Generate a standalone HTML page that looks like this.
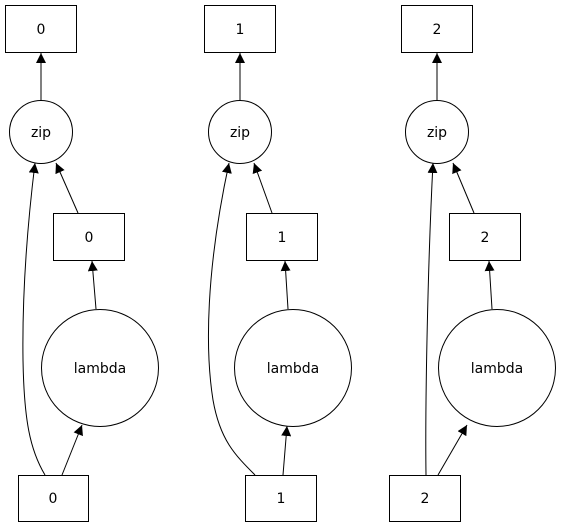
<!DOCTYPE html>
<html><head><style>html,body{margin:0;padding:0;background:#fff}svg{display:block}</style></head>
<body>
<svg width="562" height="529" viewBox="0 0 562 529" xmlns="http://www.w3.org/2000/svg" font-family="DejaVu Sans, Liberation Sans, sans-serif" font-size="14">
<defs>
<marker id="a" markerUnits="userSpaceOnUse" markerWidth="12" markerHeight="10" refX="10" refY="5" orient="auto">
<path d="M0,0 L10,5 L0,10 Z" fill="#000"/>
</marker>
</defs>
<g fill="none" stroke="#000" stroke-width="1">
<rect x="5.5" y="5.5" width="71" height="47"/>
<circle cx="41" cy="132" r="31.5"/>
<rect x="53.5" y="213.5" width="71" height="47"/>
<circle cx="100" cy="368" r="58.5"/>
<rect x="18.5" y="475.5" width="70" height="46"/>
<line x1="41" y1="100" x2="41" y2="53" marker-end="url(#a)"/>
<line x1="78" y1="213" x2="56" y2="163" marker-end="url(#a)"/>
<line x1="96" y1="309" x2="92" y2="261" marker-end="url(#a)"/>
<line x1="62" y1="475" x2="82" y2="425" marker-end="url(#a)"/>
<path d="M45,475 C30,450 24,420 23,360 C22,290 28,220 35,163" marker-end="url(#a)"/>
<rect x="204.5" y="5.5" width="71" height="47"/>
<circle cx="240" cy="132" r="31.5"/>
<rect x="246.5" y="213.5" width="71" height="47"/>
<circle cx="293" cy="368" r="58.5"/>
<rect x="245.5" y="475.5" width="71" height="46"/>
<line x1="240" y1="100" x2="240" y2="53" marker-end="url(#a)"/>
<line x1="272" y1="213" x2="254" y2="163" marker-end="url(#a)"/>
<line x1="288" y1="309" x2="285" y2="261" marker-end="url(#a)"/>
<line x1="283" y1="475" x2="287" y2="426" marker-end="url(#a)"/>
<path d="M255,475 C235,455 220,440 213,400 C205,350 206,270 229,163" marker-end="url(#a)"/>
<rect x="401.5" y="5.5" width="71" height="47"/>
<circle cx="437" cy="132" r="31.5"/>
<rect x="449.5" y="213.5" width="71" height="47"/>
<circle cx="497" cy="368" r="58.5"/>
<rect x="389.5" y="475.5" width="71" height="46"/>
<line x1="437" y1="100" x2="437" y2="53" marker-end="url(#a)"/>
<line x1="474" y1="213" x2="453" y2="163" marker-end="url(#a)"/>
<line x1="492" y1="309" x2="489" y2="261" marker-end="url(#a)"/>
<line x1="438" y1="475" x2="467" y2="425" marker-end="url(#a)"/>
<path d="M426,475 C425,400 428,260 433,163" marker-end="url(#a)"/>
</g>
<g fill="#000" text-anchor="middle">
<text x="41" y="34">0</text>
<text x="41" y="137">zip</text>
<text x="89" y="242">0</text>
<text x="100" y="373">lambda</text>
<text x="53" y="503">0</text>
<text x="240" y="34">1</text>
<text x="240" y="137">zip</text>
<text x="282" y="242">1</text>
<text x="293" y="373">lambda</text>
<text x="281" y="503">1</text>
<text x="437" y="34">2</text>
<text x="437" y="137">zip</text>
<text x="485" y="242">2</text>
<text x="497" y="373">lambda</text>
<text x="425" y="503">2</text>
</g>
</svg>
</body></html>
